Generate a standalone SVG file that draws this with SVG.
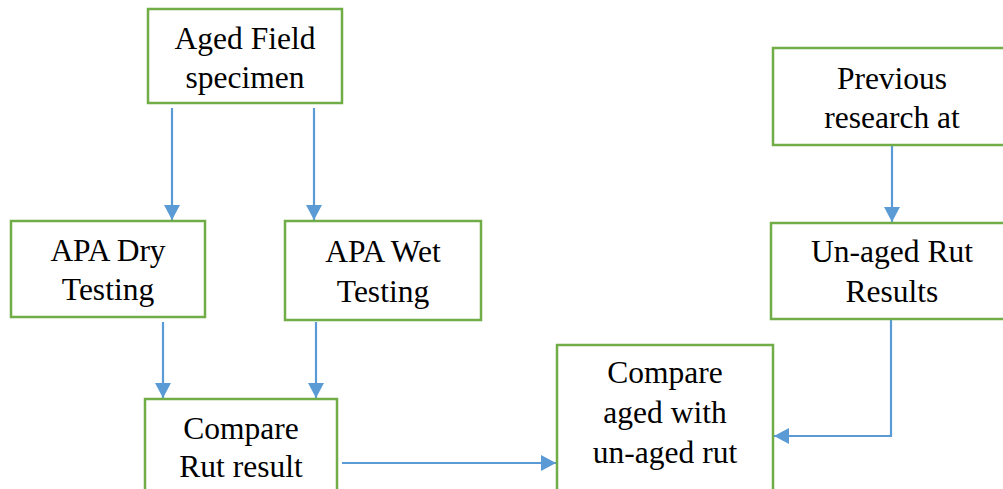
<svg xmlns="http://www.w3.org/2000/svg" width="1003" height="489" viewBox="0 0 1003 489">
<style>
.box{fill:#fff;stroke:#70AD47;stroke-width:2.5}
.t{font-family:"Liberation Serif","Times New Roman",serif;font-size:31.5px;fill:#000;text-anchor:middle}
.c{fill:none;stroke:#5B9BD5;stroke-width:2.2}
</style>
<defs>
<marker id="a" markerWidth="15" markerHeight="16" refX="15" refY="8" orient="auto" markerUnits="userSpaceOnUse" viewBox="0 0 15 16">
<path d="M0,0 L15,8 L0,16 z" fill="#5B9BD5"/>
</marker>
</defs>
<rect width="1003" height="489" fill="#fff"/>
<g id="connectors">
<path class="c" d="M172,108 V220" marker-end="url(#a)"/>
<path class="c" d="M314,108 V220" marker-end="url(#a)"/>
<path class="c" d="M163,322 V398" marker-end="url(#a)"/>
<path class="c" d="M316,322 V398" marker-end="url(#a)"/>
<path class="c" d="M892,145 V222" marker-end="url(#a)"/>
<path class="c" d="M342,463 H556" marker-end="url(#a)"/>
<path class="c" d="M891,319 V436 H774" marker-end="url(#a)"/>
</g>
<g id="aged-field">
<rect class="box" x="148" y="9" width="194" height="94"/>
<text class="t" x="245" y="49">Aged Field</text>
<text class="t" x="245" y="88">specimen</text>
</g>
<g id="apa-dry">
<rect class="box" x="11" y="221" width="194" height="96"/>
<text class="t" x="108" y="261">APA Dry</text>
<text class="t" x="108" y="300">Testing</text>
</g>
<g id="apa-wet">
<rect class="box" x="285" y="221" width="196" height="99"/>
<text class="t" x="383" y="262">APA Wet</text>
<text class="t" x="383" y="302">Testing</text>
</g>
<g id="compare-rut">
<rect class="box" x="145" y="399" width="192" height="110"/>
<text class="t" x="241" y="439">Compare</text>
<text class="t" x="241" y="477">Rut result</text>
</g>
<g id="compare-aged">
<rect class="box" x="557" y="345" width="216" height="164"/>
<text class="t" x="665" y="383">Compare</text>
<text class="t" x="665" y="423">aged with</text>
<text class="t" x="665" y="463">un-aged rut</text>
</g>
<g id="previous">
<rect class="box" x="773" y="48" width="250" height="97"/>
<text class="t" x="892" y="89">Previous</text>
<text class="t" x="892" y="128">research at</text>
</g>
<g id="unaged">
<rect class="box" x="771" y="223" width="252" height="96"/>
<text class="t" x="892" y="262">Un-aged Rut</text>
<text class="t" x="892" y="302">Results</text>
</g>
</svg>
